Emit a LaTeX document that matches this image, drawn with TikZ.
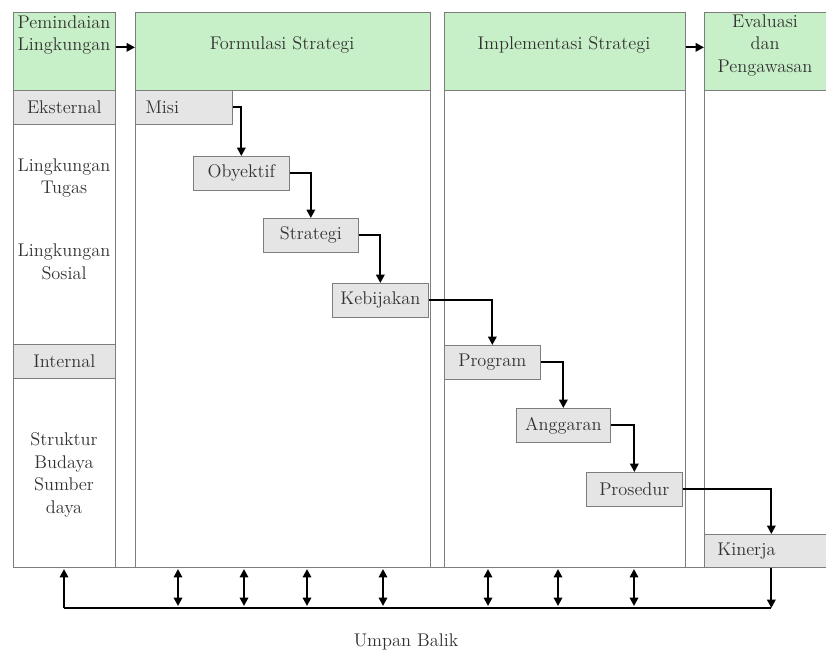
\documentclass[tikz,border=0pt]{standalone}
\usepackage{tikz}
\usetikzlibrary{arrows.meta}
\definecolor{headgreen}{RGB}{200,240,200}
\definecolor{boxgray}{RGB}{229,229,229}
\definecolor{framegray}{RGB}{125,125,125}
\definecolor{textgray}{RGB}{50,50,50}

\begin{document}
\begin{tikzpicture}[x=0.6pt,y=-0.6pt,
  every node/.style={font=\fontsize{11}{13.5}\selectfont},
  head/.style={draw=framegray,fill=headgreen,inner sep=0pt,anchor=north west,minimum height=46.8pt},
  stepbox/.style={draw=framegray,fill=boxgray,inner sep=0pt,anchor=north west,minimum height=20.4pt,text=textgray},
  lbl/.style={align=center,text=textgray,inner sep=0pt},
  conn/.style={draw=black,line width=1.2pt,-{Triangle[length=5pt,width=5pt]}},
  fb/.style={draw=black,line width=1.2pt,{Triangle[length=5pt,width=5pt]}-{Triangle[length=5pt,width=5pt]}}]
  \useasboundingbox (0,0) rectangle (826,655);
  % column frames
  \draw [framegray] (13,12) rectangle (115,567);
  \draw [framegray] (135,12) rectangle (430,567);
  \draw [framegray] (444,12) rectangle (685,567);
  \draw [framegray] (704,12) rectangle (830,567);
  \draw [framegray] (13,567) -- (826,567);
  % headers
  \node [head,minimum width=61.2pt] (pemindaian) at (13,12) {};
  \node [head,minimum width=177pt] (formulasi) at (135,12) {};
  \node [head,minimum width=144.6pt] (implementasi) at (444,12) {};
  \node [head,minimum width=75.6pt] (evaluasi) at (704,12) {};
  \node [lbl,anchor=north] at (64,15) {Pemindaian\\Lingkungan};
  \node [lbl] at (282,45) {Formulasi Strategi};
  \node [lbl] at (564,45) {Implementasi Strategi};
  \node [lbl,anchor=north] at (765,14) {Evaluasi\\dan\\Pengawasan};
  \draw [conn] ([yshift=2.4pt]pemindaian.east) -- ([yshift=2.4pt]formulasi.west);
  \draw [conn] ([yshift=2.4pt]implementasi.east) -- ([yshift=2.4pt]evaluasi.west);
  % left column
  \node [stepbox,minimum width=61.2pt] (eksternal) at (13,90) {Eksternal};
  \node [lbl] (tugas) at (64,178) {Lingkungan\\Tugas};
  \node [lbl] (sosial) at (64,262) {Lingkungan\\Sosial};
  \node [stepbox,minimum width=61.2pt] (internal) at (13,344) {Internal};
  \node [lbl] (sumber) at (64,475) {Struktur\\Budaya\\Sumber\\daya};
  % steps
  \node [stepbox,minimum width=58.2pt,text width=46pt,align=left] (misi) at (135,90) {Misi};
  \node [stepbox,minimum width=57.6pt] (obyektif) at (193,156) {Obyektif};
  \node [stepbox,minimum width=57pt] (strategi) at (263,218) {Strategi};
  \node [stepbox,minimum width=57.6pt] (kebijakan) at (332,283) {Kebijakan};
  \node [stepbox,minimum width=57.6pt] (program) at (444,345) {Program};
  \node [stepbox,minimum width=56.4pt] (anggaran) at (516,408) {Anggaran};
  \node [stepbox,minimum width=57.6pt] (prosedur) at (586,472) {Prosedur};
  \node [stepbox,minimum width=75.6pt,minimum height=19.8pt,text width=60pt,align=left] (kinerja) at (704,534) {Kinerja};
  \draw [conn] (misi.east) -| (obyektif.north);
  \draw [conn] (obyektif.east) -| (strategi.north);
  \draw [conn] (strategi.east) -| (kebijakan.north);
  \draw [conn] (kebijakan.east) -| (program.north);
  \draw [conn] (program.east) -| (anggaran.north);
  \draw [conn] (anggaran.east) -| (prosedur.north);
  \draw [conn] (prosedur.east) -| ([xshift=2.4pt]kinerja.north);
  % feedback
  \coordinate (fbL) at (64,608);
  \coordinate (fbR) at ([xshift=2.4pt]kinerja.south |- fbL);
  \draw [black,line width=1.2pt] (fbL) -- (fbR);
  \draw [conn] (fbL) -- (64,569);
  \draw [conn] ([xshift=2.4pt]kinerja.south) -- (fbR);
  \foreach \x in {178,244,307,383,488,558,634}
    \draw [fb] (\x,569) -- (\x,606);
  \node [lbl] (umpan) at (406,642) {Umpan Balik};
\end{tikzpicture}
\end{document}
